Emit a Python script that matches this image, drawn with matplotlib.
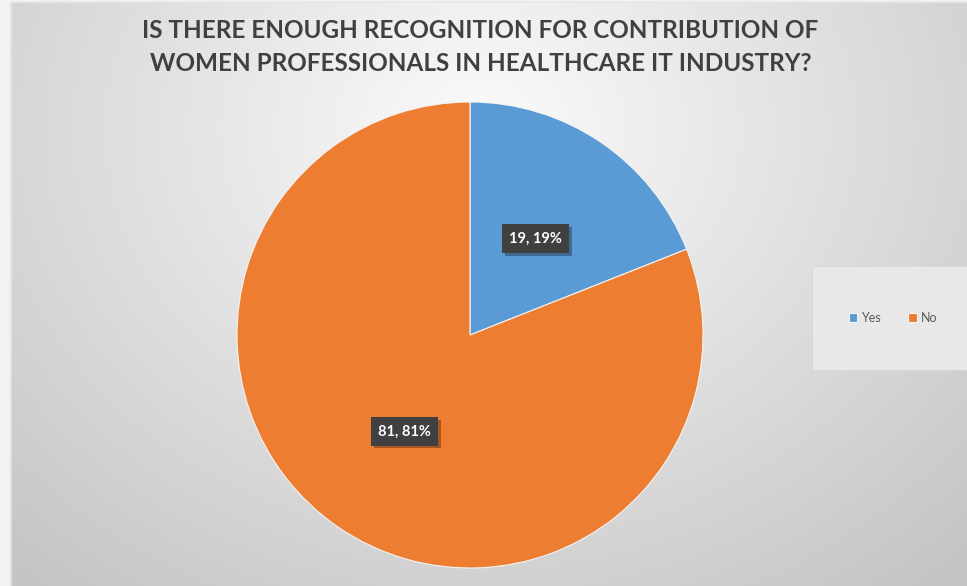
import numpy as np
import matplotlib.pyplot as plt
import matplotlib.patheffects as pe
from matplotlib.patches import Rectangle

# survey answers
labels = ['Yes', 'No']
counts = [19, 81]
colors = ['#5B9BD5', '#ED7D31']
title = ('IS THERE ENOUGH RECOGNITION FOR CONTRIBUTION OF\n'
         'WOMEN PROFESSIONALS IN HEALTHCARE IT INDUSTRY?')

W, H = 967, 586
fig = plt.figure(figsize=(W / 100, H / 100), dpi=100)

# soft radial background, brightest just under the title
bg = fig.add_axes([0, 0, 1, 1])
yy, xx = np.mgrid[0:H, 0:W]
r = np.sqrt(((xx - 480) / 620.0) ** 2 + ((yy - 130) / 520.0) ** 2)
shade = np.clip(0.985 - 0.19 * r, 0.77, 0.985)
bg.imshow(np.dstack([shade] * 3), extent=[0, W, H, 0], aspect='auto', interpolation='bilinear')
bg.plot([11, 11], [2, H], color='#e8e8e8', lw=1.2)
bg.plot([11, W], [2, 2], color='#e8e8e8', lw=1.2)
bg.add_patch(Rectangle((0, 0), 10, H, color='#f2f2f2', lw=0))
bg.add_patch(Rectangle((0, 0), W, 2, color='#f2f2f2', lw=0))
bg.set_xlim(0, W)
bg.set_ylim(H, 0)
bg.axis('off')

fig.text(0.497, 1 - 47 / H, title, ha='center', va='center', fontsize=17.5,
         fontweight='bold', family='Lato', color='#404040', linespacing=1.5)

# pie axes: centre (470, 335), radius 233 px
cx, cy, rad = 470, 335, 233
ax = fig.add_axes([(cx - rad) / W, (H - cy - rad) / H, 2 * rad / W, 2 * rad / H])
total = sum(counts)
wedges, _, autotexts = ax.pie(
    counts, colors=colors, startangle=90, counterclock=False,
    autopct=lambda p: f'{int(round(p * total / 100))}, {p:.0f}%',
    pctdistance=0.5, wedgeprops=dict(edgecolor='#f4f4f4', linewidth=0.8))
for t in autotexts:
    t.set_color('white')
    t.set_fontsize(10.5)
    t.set_fontweight('bold')
    t.set_family('Lato')
    t.set_bbox(dict(boxstyle='square,pad=0.5', facecolor='#404040', edgecolor='none'))
    # drop shadow under the dark label box
    t.get_bbox_patch().set_path_effects(
        [pe.SimplePatchShadow(offset=(2, -2), shadow_rgbFace='black', alpha=0.3), pe.Normal()])
ax.set_xlim(-1, 1)
ax.set_ylim(-1, 1)
ax.set_aspect('equal')

# legend panel on the right
bg.add_patch(Rectangle((812, 266), 170, 104, facecolor='#e8e8e8', edgecolor='#d8d8d8', lw=0.6))
leg = fig.legend(wedges, labels, loc='center', bbox_to_anchor=(893 / W, 1 - 318 / H), ncol=2,
                 frameon=False, fontsize=9, handlelength=0.7, handleheight=0.7,
                 handletextpad=0.3, columnspacing=2.2)
for t in leg.get_texts():
    t.set_color('#595959')
    t.set_family('Lato')

fig.savefig('out.png', dpi=100)
